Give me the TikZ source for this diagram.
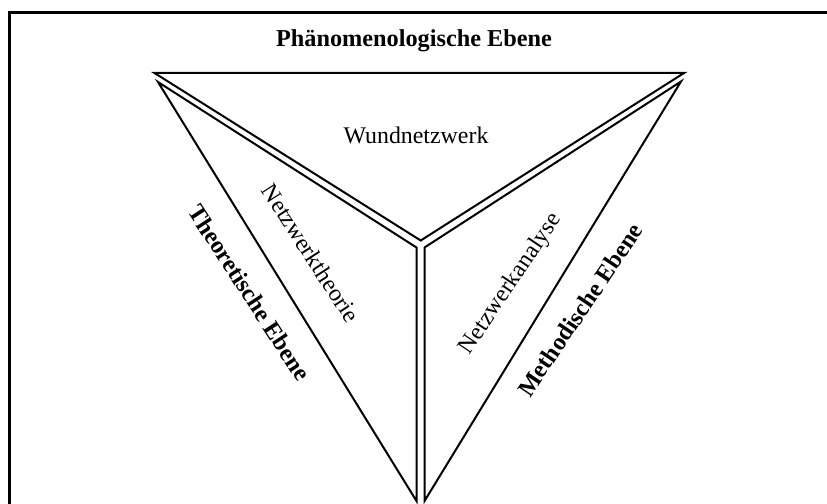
\documentclass[tikz,border=0pt]{standalone}
\usepackage{fontspec}
\setmainfont{Liberation Serif}
\begin{document}
\begin{tikzpicture}[x=0.75pt,y=-0.75pt,
  facet/.style={draw=black,line width=1.5pt,line join=miter},
  frameline/.style={draw=black,line width=2.2pt},
  levellabel/.style={font=\fontsize{18.2}{20}\selectfont\bfseries,inner sep=0pt},
  fieldlabel/.style={font=\fontsize{17.9}{20}\selectfont,inner sep=0pt}]
\useasboundingbox (0,0) rectangle (827,503);

% open frame (left and top border)
\draw[frameline] (9.5,520) -- (9.5,12.5) -- (840,12.5);

% vertices of the three facets
\coordinate (tA) at (154.5,73);
\coordinate (tB) at (684,73);
\coordinate (tC) at (420.7,240.5);
\coordinate (lA) at (158,82);
\coordinate (lB) at (416.5,247.5);
\coordinate (lC) at (416.5,501);
\coordinate (rA) at (681,81.5);
\coordinate (rB) at (424.5,247.5);
\coordinate (rC) at (424.5,501);

% facets
\draw[facet] (tA) -- (tB) -- (tC) -- cycle;
\draw[facet] (lA) -- (lB) -- (lC) -- cycle;
\draw[facet] (rA) -- (rB) -- (rC) -- cycle;

% labels
\node[levellabel,anchor=base] (phaen) at (414,46) {Phänomenologische Ebene};
\node[fieldlabel,anchor=base] (wund) at (416,143) {Wundnetzwerk};
\node[fieldlabel,rotate=-57] (theorie) at (311,253) {Netzwerktheorie};
\node[levellabel,rotate=-57] (theoEb) at (249.5,292.5) {Theoretische Ebene};
\node[fieldlabel,rotate=56] (analyse) at (511,284) {Netzwerkanalyse};
\node[levellabel,rotate=56] (methEb) at (580,310) {Methodische Ebene};
\end{tikzpicture}
\end{document}
